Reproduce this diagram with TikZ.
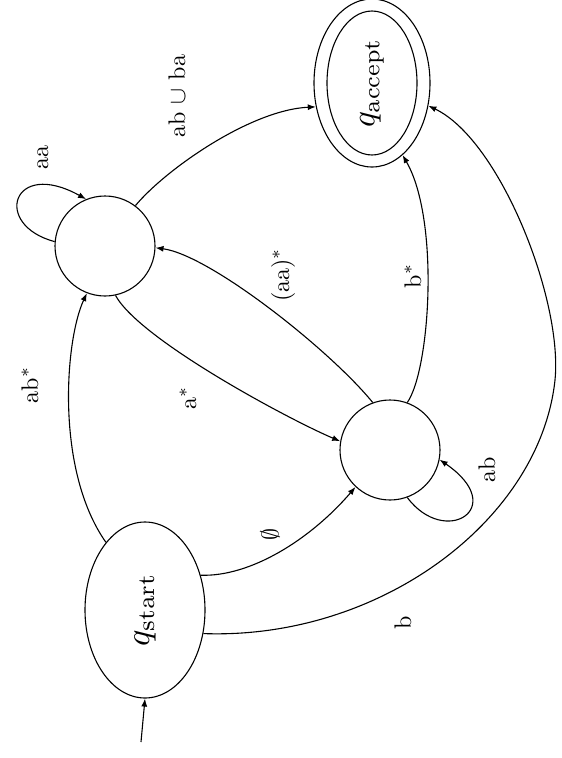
\documentclass[tikz,border=0pt]{standalone}
\usepackage{graphicx}
\usetikzlibrary{arrows.meta,shapes.geometric}
\begin{document}
\begin{tikzpicture}[x=1pt,y=-1pt,
  st/.style={draw,line width=1.1pt,inner sep=0pt},
  edge/.style={line width=1.1pt,-{Latex[length=8pt,width=6pt]}},
  lab/.style={rotate=90,inner sep=1pt}]
\useasboundingbox (0,0) rectangle (562,758);
% states
\node[st,ellipse,minimum width=120,minimum height=176] (qs) at (145,610) {\rotatebox{90}{\scalebox{3.4}{$q_{\mathrm{start}}$}}};
\node[st,circle,minimum size=100] (q1) at (105,246) {};
\node[st,circle,minimum size=100] (q2) at (390,450) {};
\node[st,ellipse,minimum width=116,minimum height=168] (qa) at (372,83) {};
\node[st,ellipse,minimum width=90,minimum height=144] (qai) at (372,83) {\rotatebox{90}{\scalebox{3.3}{$q_{\mathrm{accept}}$}}};
% start arrow
\coordinate (init) at (141,742);
\draw[edge] (init) -- (qs.south);
% edges
\draw[edge] (qs.120) .. controls (55,470) and (65,340) .. (q1.249);
\draw[edge] (qs.32) .. controls (250,577) and (310,540) .. (q2.227);
\draw[edge] (qs.-22) .. controls (380,640) and (540,520) .. (555,380)
                    .. controls (563,300) and (500,140) .. (qa.-22);
\draw[edge] (q1.282) .. controls (140,340) and (290,420) .. (q2.170);
\draw[edge] (q2.110) .. controls (330,350) and (210,255) .. (q1.-2);
\draw[edge] (q2.70) .. controls (430,370) and (440,220) .. (qa.293);
\draw[edge] (q1.53) .. controls (165,170) and (250,110) .. (qa.203);
% loops
\draw[edge] (q1.175) .. controls (-8,225) and (12,158) .. (q1.112);
\draw[edge] (q2.290) .. controls (445,548) and (510,508) .. (q2.349);
% labels
\node[lab] (laa) at (43,157) {\scalebox{2.4}{aa}};
\node[lab] (labs) at (30,385) {\scalebox{2.4}{ab$^*$}};
\node[lab] (lemp) at (270,534) {\scalebox{2.4}{$\emptyset$}};
\node[lab] (las) at (188,398) {\scalebox{2.4}{a$^*$}};
\node[lab] (laas) at (283,275) {\scalebox{2.4}{(aa)$^*$}};
\node[lab] (lbs) at (413,276) {\scalebox{2.4}{b$^*$}};
\node[lab] (lb) at (403,623) {\scalebox{2.4}{b}};
\node[lab] (labba) at (177,96) {\scalebox{2.4}{ab $\cup$ ba}};
\node[lab] (lab) at (487,470) {\scalebox{2.4}{ab}};
\end{tikzpicture}
\end{document}
